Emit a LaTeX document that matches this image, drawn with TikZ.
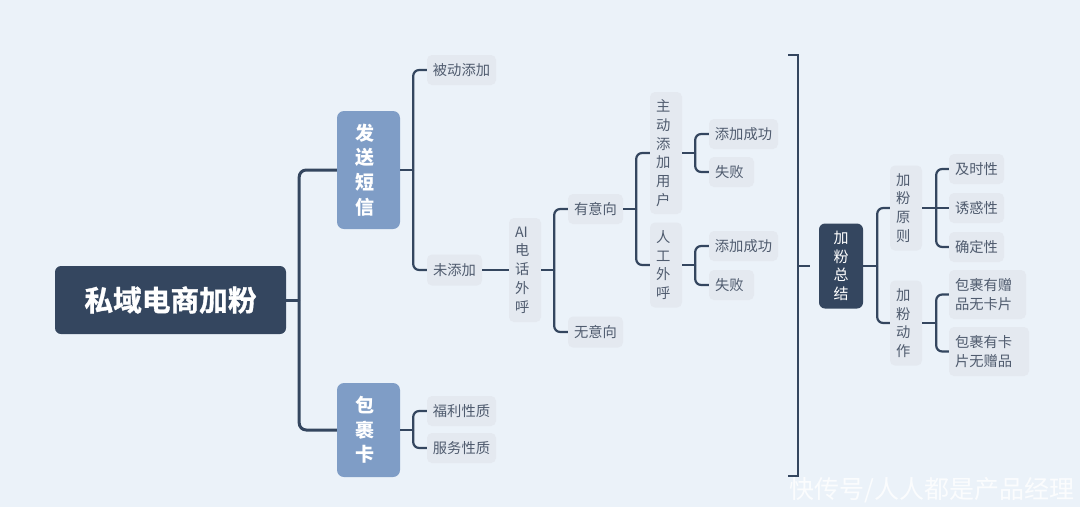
\documentclass[tikz,border=0pt]{standalone}
\usepackage{fontspec}
\setmainfont{Noto Sans CJK SC}
\newfontfamily\heavyf[FakeBold=1.2]{Noto Sans CJK SC Bold}
\definecolor{bgc}{HTML}{EBF2F9}
\definecolor{darkc}{HTML}{34465F}
\definecolor{bluec}{HTML}{7F9DC6}
\definecolor{leafc}{HTML}{E4E9F0}
\definecolor{textc}{HTML}{4F5B6E}
\tikzset{
  box/.style={rectangle,inner sep=0pt,align=center},
  rootbox/.style={box,fill=darkc,text=white,rounded corners=6pt,font=\fontsize{28.7}{32}\heavyf},
  mainbox/.style={box,fill=bluec,text=white,rounded corners=7pt,align=left,inner xsep=18pt,text width=27pt,font=\fontsize{19}{24.6}\selectfont\bfseries},
  sumbox/.style={box,fill=darkc,text=white,rounded corners=6pt,font=\fontsize{15}{18.6}\selectfont},
  leafbox/.style={box,fill=leafc,text=textc,rounded corners=5pt,font=\fontsize{14.3}{18.7}\selectfont},
  leafl/.style={leafbox,align=left,inner xsep=6pt},
  link/.style={draw=darkc,line width=2.2pt,rounded corners=6pt},
  thicklink/.style={draw=darkc,line width=3pt,rounded corners=7pt},
  bracketline/.style={draw=darkc,line width=2.2pt},
}
\begin{document}
\begin{tikzpicture}[x=1pt,y=-1pt]
\useasboundingbox (0,0) rectangle (1080,507);
\fill[bgc] (0,0) rectangle (1080,507);
% nodes
\node[rootbox,minimum width=231pt,minimum height=68pt] (root) at (170.5,300) {私域电商加粉};
\node[mainbox,minimum height=118pt] (send) at (368.5,170) {发\\送\\短\\信};
\node[mainbox,minimum height=94pt] (pack) at (368.5,430) {包\\裹\\卡};
\node[leafbox,minimum width=69pt,minimum height=30pt] (bd) at (461.5,70) {被动添加};
\node[leafbox,minimum width=55pt,minimum height=31pt] (wtj) at (454.5,270) {未添加};
\node[leafbox,minimum width=69pt,minimum height=30pt] (fl) at (461.5,411) {福利性质};
\node[leafbox,minimum width=69pt,minimum height=30pt] (fw) at (461.5,448) {服务性质};
\node[leafl,text width=20pt,minimum height=104pt] (ai) at (525,270) {AI\\电\\话\\外\\呼};
\node[leafbox,minimum width=55pt,minimum height=30pt] (yx) at (595.5,209) {有意向};
\node[leafbox,minimum width=55pt,minimum height=31pt] (wx) at (595.5,332) {无意向};
\node[leafl,text width=20pt,minimum height=122pt] (zd) at (666,153) {主\\动\\添\\加\\用\\户};
\node[leafl,text width=20pt,minimum height=85pt] (rg) at (666,265) {人\\工\\外\\呼};
\node[leafbox,minimum width=69pt,minimum height=30pt] (tj1) at (743.5,134) {添加成功};
\node[leafl,text width=33pt,minimum height=30pt] (sb1) at (731.5,172) {失败};
\node[leafbox,minimum width=69pt,minimum height=30pt] (tj2) at (743.5,246) {添加成功};
\node[leafl,text width=33pt,minimum height=30pt] (sb2) at (731.5,285) {失败};
\node[sumbox,minimum width=44pt,minimum height=85pt] (zj) at (841,266) {加\\粉\\总\\结};
\node[leafl,text width=20pt,minimum height=85pt] (yz) at (906,208) {加\\粉\\原\\则};
\node[leafl,text width=20pt,minimum height=85pt] (dz) at (906,323) {加\\粉\\动\\作};
\node[leafbox,minimum width=55pt,minimum height=30pt] (js) at (976.5,169) {及时性};
\node[leafbox,minimum width=55pt,minimum height=30pt] (yh) at (976.5,208) {诱惑性};
\node[leafbox,minimum width=55pt,minimum height=30pt] (qd) at (976.5,247) {确定性};
\node[leafl,text width=65pt,minimum height=49pt] (bz1) at (987.5,294.5) {包裹有赠\\品无卡片};
\node[leafl,text width=68pt,minimum height=49pt] (bz2) at (989,351.5) {包裹有卡\\片无赠品};
\node[text=white,opacity=.8,inner sep=0pt,font=\fontsize{25}{28}\selectfont] (mark) at (932,490) {快传号/人人都是产品经理};
% junction points on the trunks
\coordinate (jroot) at ([xshift=13pt]root.east);
\coordinate (jsend) at ([xshift=13pt]send.east);
\coordinate (jpack) at ([xshift=13pt]pack.east);
\coordinate (jai) at ([xshift=13pt]ai.east);
\coordinate (jyx) at ([xshift=13pt]yx.east);
\coordinate (jzd) at ([xshift=13pt]zd.east);
\coordinate (jrg) at ([xshift=13pt]rg.east);
\coordinate (jzj) at ([xshift=14pt]zj.east);
\coordinate (jyz) at ([xshift=14pt]yz.east);
\coordinate (jdz) at ([xshift=14pt]dz.east);
% connectors
\draw[thicklink] (root.east) -- (jroot);
\draw[thicklink] (jroot) |- (send.west);
\draw[thicklink] (jroot) |- (pack.west);
\draw[link] (send.east) -- (jsend);
\draw[link] (jsend) |- (bd.west);
\draw[link] (jsend) |- (wtj.west);
\draw[link] (pack.east) -- (jpack);
\draw[link] (jpack) |- (fl.west);
\draw[link] (jpack) |- (fw.west);
\draw[link] (wtj.east) -- (ai.west);
\draw[link] (ai.east) -- (jai);
\draw[link] (jai) |- (yx.west);
\draw[link] (jai) |- (wx.west);
\draw[link] (yx.east) -- (jyx);
\draw[link] (jyx) |- (zd.west);
\draw[link] (jyx) |- (rg.west);
\draw[link] (zd.east) -- (jzd);
\draw[link] (jzd) |- (tj1.west);
\draw[link] (jzd) |- (sb1.west);
\draw[link] (rg.east) -- (jrg);
\draw[link] (jrg) |- (tj2.west);
\draw[link] (jrg) |- (sb2.west);
\draw[link] (zj.east) -- (jzj);
\draw[link] (jzj) |- (yz.west);
\draw[link] (jzj) |- (dz.west);
\draw[link] (yz.east) -- (yh.west);
\draw[link] (jyz) |- (js.west);
\draw[link] (jyz) |- (qd.west);
\draw[link] (dz.east) -- (jdz);
\draw[link] (jdz) |- (bz1.west);
\draw[link] (jdz) |- (bz2.west);
% summary bracket
\coordinate (bt) at (788,55);
\coordinate (bb) at (788,476);
\coordinate (bm) at (798,266);
\coordinate (bk) at (810,266);
\draw[bracketline] (bt) -- (798,55) -- (798,476) -- (bb);
\draw[bracketline] (bm) -- (bk);
\end{tikzpicture}
\end{document}
